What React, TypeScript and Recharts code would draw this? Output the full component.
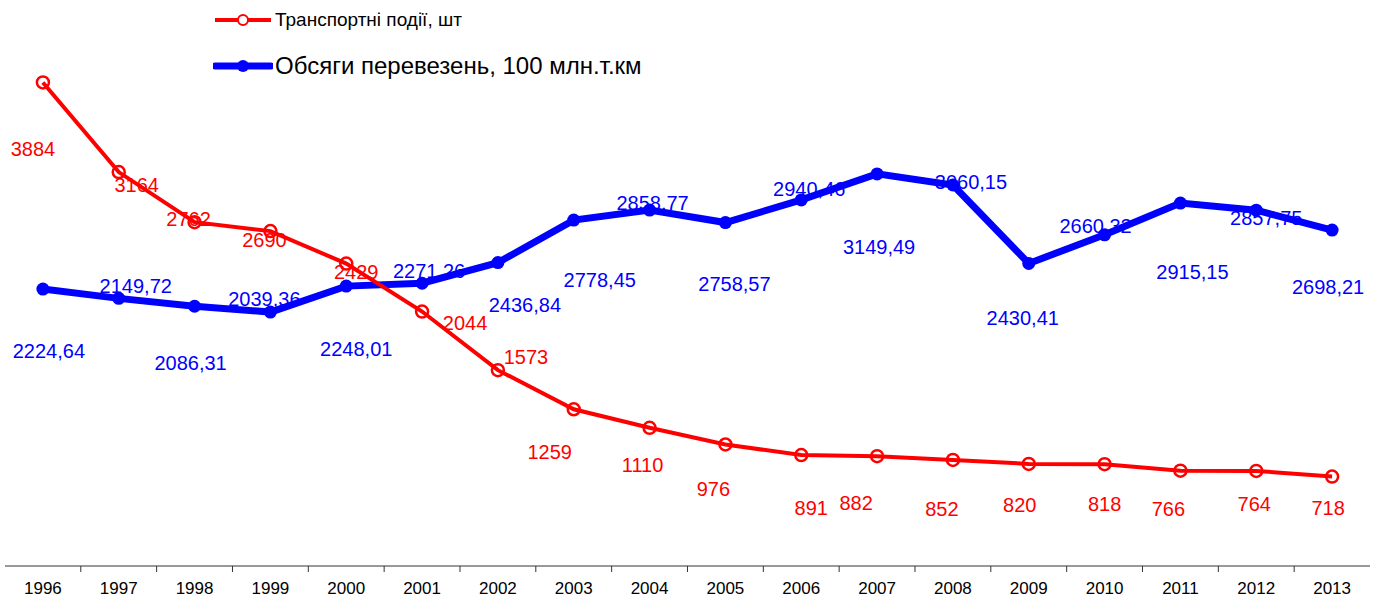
import React from 'react';
import { LineChart, Line, XAxis, YAxis, LabelList } from 'recharts';

const years = ['1996', '1997', '1998', '1999', '2000', '2001', '2002', '2003', '2004', '2005', '2006', '2007', '2008', '2009', '2010', '2011', '2012', '2013'];
const accidents = [3884, 3164, 2762, 2690, 2429, 2044, 1573, 1259, 1110, 976, 891, 882, 852, 820, 818, 766, 764, 718];
const freight = [2224.64, 2149.72, 2086.31, 2039.36, 2248.01, 2271.26, 2436.84, 2778.45, 2858.77, 2758.57, 2940.46, 3149.49, 3060.15, 2430.41, 2660.32, 2915.15, 2857.75, 2698.21];

const ACC_NAME = 'Транспортні події, шт';
const FREIGHT_NAME = 'Обсяги перевезень, 100 млн.т.км';

// label nudges (dx, dy from the point), the source has them hand placed
const accLabelOffsets = [
  [-10, 67], [18, 13], [-6, -3], [-6, 9], [10, 8], [43, 11], [28, -13], [-24, 43], [-7, 37],
  [-12, 45], [10, 53], [-21, 47], [-11, 49], [-9, 41], [0, 40], [-12, 38], [-2, 33], [-4, 31]
];
const freightLabelOffsets = [
  [6, 62], [17, -12], [-4, 57], [-6, -13], [10, 63], [7, -12], [27, 42], [26, 60], [3, -7],
  [9, 61], [8, -11], [2, 73], [18, -3], [-6, 55], [-9, -9], [12, 69], [10, 8], [-4, 57]
];

const RED = '#ff0000';
const BLUE = '#0000ff';
const FONT = '"Liberation Sans", Arial, sans-serif';

const W = 1380;
const H = 599;
const AXIS_H = 33;
const PLOT_BOTTOM = H - AXIS_H;
const HALF_BAND = 37.9;

const data = years.map((y, i) => ({ year: y, accidents: accidents[i], freight: freight[i] }));

const fmtFreight = (v: number) => v.toFixed(2).replace('.', ',');

function makeLabel(offsets: number[][], color: string, fmt: (v: number) => string) {
  return (props: any) => {
    const { x, y, value, index } = props;
    const [dx, dy] = offsets[index] || [0, 0];
    return (
      <text
        x={x + dx}
        y={y + dy}
        textAnchor="middle"
        dominantBaseline="central"
        fill={color}
        fontSize={20}
        fontFamily={FONT}
      >
        {fmt(value)}
      </text>
    );
  };
}

function YearTick(props: any) {
  const { x, payload, index } = props;
  return (
    <g>
      {index < years.length - 1 && (
        <line x1={x + HALF_BAND} x2={x + HALF_BAND} y1={PLOT_BOTTOM} y2={PLOT_BOTTOM + 6} stroke="#333" strokeWidth={1} />
      )}
      <text x={x} y={H - 5} textAnchor="middle" fontSize={17} fontFamily={FONT} fill="#000">
        {payload.value}
      </text>
    </g>
  );
}

const RedDot = (props: any) => {
  const { cx, cy, index } = props;
  return <circle key={`r-${index}`} cx={cx} cy={cy} r={6} fill="none" stroke={RED} strokeWidth={2.5} />;
};

const BlueDot = (props: any) => {
  const { cx, cy, index } = props;
  return <circle key={`b-${index}`} cx={cx} cy={cy} r={6.5} fill={BLUE} stroke="none" />;
};

function ChartLegend() {
  return (
    <div style={{ position: 'absolute', left: 213, top: 6, fontFamily: FONT }}>
      <div style={{ display: 'flex', alignItems: 'center', height: 28 }}>
        <svg width={60} height={20}>
          <line x1={2} x2={58} y1={10} y2={10} stroke={RED} strokeWidth={4} />
          <circle cx={30} cy={10} r={5} fill="#fff" stroke={RED} strokeWidth={2} />
        </svg>
        <span style={{ fontSize: 19, marginLeft: 2, color: '#000' }}>{ACC_NAME}</span>
      </div>
      <div style={{ display: 'flex', alignItems: 'center', height: 36, marginTop: 14 }}>
        <svg width={60} height={20}>
          <line x1={2} x2={58} y1={10} y2={10} stroke={BLUE} strokeWidth={7} strokeLinecap="round" />
          <circle cx={30} cy={10} r={6} fill={BLUE} />
        </svg>
        <span style={{ fontSize: 24, marginLeft: 2, color: '#000' }}>{FREIGHT_NAME}</span>
      </div>
    </div>
  );
}

export default function App() {
  return (
    <div style={{ position: 'absolute', left: 0, top: 0, width: W, height: H, background: '#fff' }}>
      <LineChart width={W} height={H} data={data} margin={{ top: 68, right: 10, bottom: 0, left: 5 }}>
        <XAxis
          dataKey="year"
          height={AXIS_H}
          padding={{ left: HALF_BAND, right: HALF_BAND }}
          axisLine={{ stroke: '#333', strokeWidth: 1 }}
          tickLine={false}
          tick={<YearTick />}
          interval={0}
        />
        <YAxis hide domain={[0, 4000]} />
        {/* labels first so the lines sit on top of them, like the source */}
        <Line dataKey="accidents" stroke="none" dot={false} activeDot={false} isAnimationActive={false} legendType="none">
          <LabelList dataKey="accidents" content={makeLabel(accLabelOffsets, RED, (v) => String(v))} />
        </Line>
        <Line dataKey="freight" stroke="none" dot={false} activeDot={false} isAnimationActive={false} legendType="none">
          <LabelList dataKey="freight" content={makeLabel(freightLabelOffsets, BLUE, fmtFreight)} />
        </Line>
        <Line
          dataKey="freight"
          name={FREIGHT_NAME}
          stroke={BLUE}
          strokeWidth={7}
          dot={<BlueDot />}
          activeDot={false}
          isAnimationActive={false}
        />
        <Line
          dataKey="accidents"
          name={ACC_NAME}
          stroke={RED}
          strokeWidth={4}
          dot={<RedDot />}
          activeDot={false}
          isAnimationActive={false}
        />
      </LineChart>
      <ChartLegend />
    </div>
  );
}
